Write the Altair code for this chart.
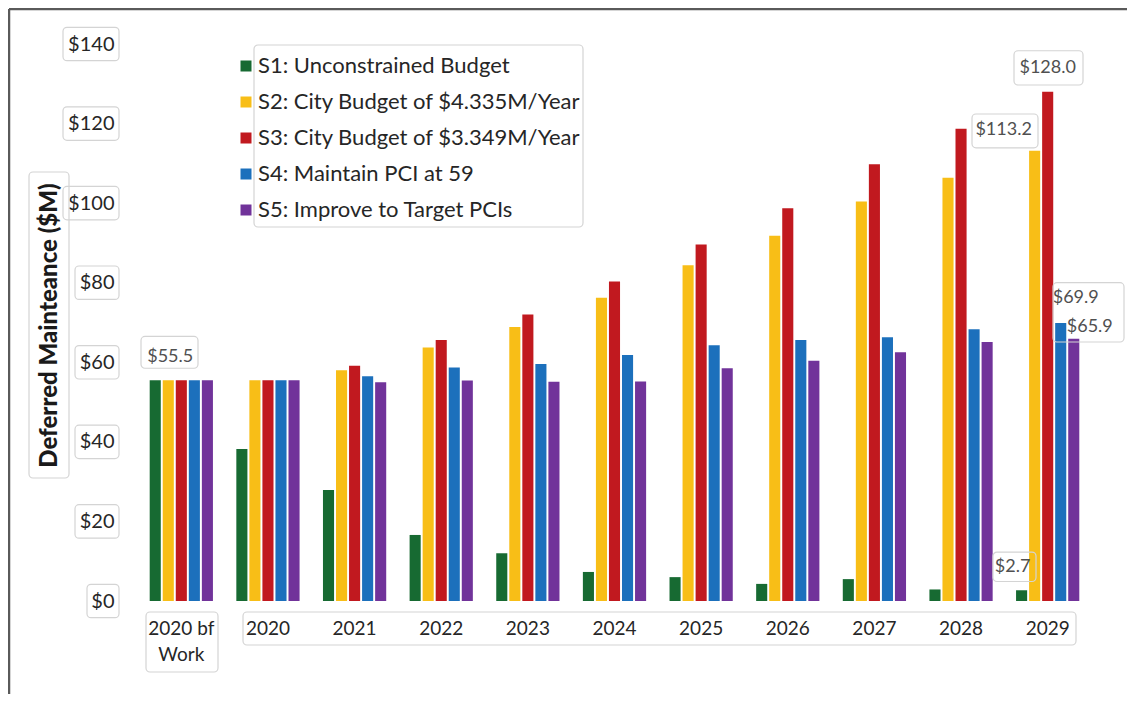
import altair as alt
import pandas as pd

# ---------------- data ----------------
categories = ["2020 bf Work", "2020", "2021", "2022", "2023", "2024",
              "2025", "2026", "2027", "2028", "2029"]
series_names = ["S1: Unconstrained Budget",
                "S2: City Budget of $4.335M/Year",
                "S3: City Budget of $3.349M/Year",
                "S4: Maintain PCI at 59",
                "S5: Improve to Target PCIs"]
s1 = [55.5, 38.2, 27.9, 16.6, 12.0, 7.3, 6.0, 4.3, 5.5, 2.9, 2.7]
s2 = [55.5, 55.5, 58.0, 63.7, 68.9, 76.2, 84.4, 91.8, 100.4, 106.4, 113.2]
s3 = [55.5, 55.5, 59.1, 65.6, 72.0, 80.3, 89.6, 98.7, 109.8, 118.7, 128.0]
s4 = [55.5, 55.5, 56.5, 58.7, 59.6, 61.8, 64.3, 65.6, 66.3, 68.3, 69.9]
s5 = [55.5, 55.5, 55.0, 55.4, 55.1, 55.2, 58.5, 60.4, 62.5, 65.1, 65.9]
colors = ["#176A32", "#F8BE17", "#C1191F", "#1C70BC", "#71339A"]
y_ticks = [0, 20, 40, 60, 80, 100, 120, 140]

rows = []
for name, vals in zip(series_names, [s1, s2, s3, s4, s5]):
    for c, v in zip(categories, vals):
        rows.append({"cat": c, "series": name, "value": v})
df = pd.DataFrame(rows)

W, H = 953, 557
FONT = "Lato"
BOX = "#D4D4D4"

x_enc = alt.X("cat:N", sort=categories,
              scale=alt.Scale(paddingInner=0.27, paddingOuter=0.135),
              axis=alt.Axis(title=None, labelFontSize=19, labelFont=FONT,
                            labelColor="#262626", labelPadding=18,
                            labelBaseline="top", labelLineHeight=26,
                            labelExpr="datum.label == '2020 bf Work' ? ['2020 bf', 'Work'] : datum.label",
                            domain=False, ticks=False, grid=False, labelAngle=0))
y_enc = alt.Y("value:Q",
              scale=alt.Scale(domain=[0, 140], nice=False, zero=True),
              axis=alt.Axis(values=y_ticks, labelExpr="'$' + datum.value",
                            labelFontSize=20, labelFont=FONT, labelColor="#262626",
                            labelPadding=24, ticks=False, domain=False,
                            gridColor="#D9D9D9", gridWidth=1.5,
                            title="Deferred Mainteance ($M)", titleFont=FONT,
                            titleFontSize=24, titleFontWeight=900,
                            titleColor="#1a1a1a", titleAngle=-90,
                            titleX=-89, titleY=281, titleAlign="center",
                            titleBaseline="middle"))

bars = alt.Chart(df).mark_bar().encode(
    x=x_enc,
    xOffset=alt.XOffset("series:N", sort=series_names,
                        scale=alt.Scale(paddingInner=0.15, paddingOuter=0)),
    y=y_enc,
    color=alt.Color("series:N", sort=series_names,
                    scale=alt.Scale(domain=series_names, range=colors),
                    legend=alt.Legend(orient="none", legendX=97, legendY=11,
                                      title=None, symbolType="square",
                                      symbolSize=121, symbolStrokeWidth=0,
                                      labelFont=FONT, labelFontSize=22,
                                      labelLimit=0,
                                      labelColor="#262626", rowPadding=14,
                                      labelOffset=1, padding=0)),
)


def box(x1, x2, y1, y2):
    """decorative rounded frame; y given either as pixels or as data datums"""
    enc = {"x": alt.value(x1), "x2": alt.value(x2)}
    if isinstance(y1, tuple):
        enc["y"] = alt.datum(y1[0])
        enc["y2"] = alt.datum(y2[0])
    else:
        enc["y"] = alt.value(y1)
        enc["y2"] = alt.value(y2)
    return alt.Chart(alt.Data(values=[{}])).mark_rect(
        fill="white", fillOpacity=0, stroke=BOX, strokeWidth=1.2,
        cornerRadius=4).encode(**enc)


layers = []
# frame of the picture (top and left)
layers.append(alt.Chart(alt.Data(values=[{}])).mark_rule(
    color="#5a5a5a", strokeWidth=2.5).encode(
    x=alt.value(-129), x2=alt.value(W + 40), y=alt.value(-35)))
layers.append(alt.Chart(alt.Data(values=[{}])).mark_rule(
    color="#5a5a5a", strokeWidth=2.5).encode(
    x=alt.value(-129), y=alt.value(-35), y2=alt.value(H + 100)))

# y tick label boxes
for t in y_ticks:
    left = -51 if t < 10 else (-63 if t < 100 else -75)
    layers.append(box(left, -19, (t + 4.2,), (t - 4.2,)))
# y title box
layers.append(box(-109, -69, 128, 434))
# x label boxes
layers.append(box(8, 80, H + 11, H + 71))
layers.append(box(105, 938, H + 11, H + 44))
# legend box
layers.append(box(116, 445, 1, 183))

layers.append(bars)


def label(cat, series, text, dx, dy, align="center"):
    d = df[(df.cat == cat) & (df.series == series)].copy()
    d["txt"] = text
    return alt.Chart(d).mark_text(
        font=FONT, fontSize=18, color="#505050", dx=dx, dy=dy,
        align=align, baseline="middle").encode(
        x=alt.X("cat:N", sort=categories),
        xOffset=alt.XOffset("series:N", sort=series_names),
        y="value:Q", text="txt:N")


layers.append(label("2020 bf Work", series_names[0], "$55.5", 15, -23))
layers.append(label("2029", series_names[0], "$2.7", -9, -23))
layers.append(label("2029", series_names[1], "$113.2", -31, -21))
layers.append(label("2029", series_names[2], "$128.0", 0, -24))
layers.append(label("2029", series_names[3], "$69.9", 15, -25))
layers.append(label("2029", series_names[4], "$65.9", 16, -12))

# data-label boxes (vertical extent tied to the values)
layers.append(box(3, 60, (55.5 + 11.0,), (55.5 + 3.0,)))
layers.append(box(855, 898, (2.7 + 9.6,), (2.7 + 2.2,)))
layers.append(box(834, 900, (113.2 + 9.2,), (113.2 + 0.7,)))
layers.append(box(876, 945, (128.0 + 10.3,), (128.0 + 1.7,)))
layers.append(box(915, 986, (69.9 + 10.1,), (69.9 - 4.8,)))

chart = alt.layer(*layers).properties(
    width=W, height=H,
    autosize=alt.AutoSizeParams(type="none"),
    padding={"left": 130, "top": 36, "right": 36, "bottom": 93},
    view=alt.ViewBackground(stroke="transparent", strokeWidth=0),
).configure_view(strokeWidth=0, stroke="transparent").configure(background="white")

chart.save("out.html", embed_options={"renderer": "svg", "actions": False})
